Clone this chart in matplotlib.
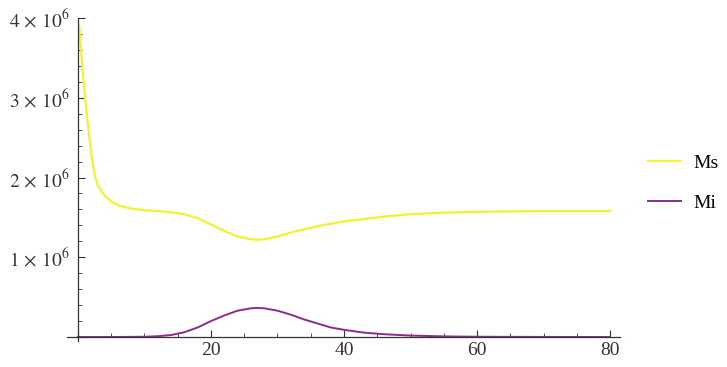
import matplotlib
matplotlib.use("Agg")
import matplotlib.pyplot as plt
from matplotlib.ticker import MultipleLocator, FuncFormatter

plt.rcParams['font.family'] = ['Liberation Serif', 'DejaVu Serif']
plt.rcParams['mathtext.fontset'] = 'stix'

# Ms curve
x_ms = [0.2, 0.5, 1, 1.5, 2, 2.5, 3, 4, 5, 6, 8, 10, 12, 14, 16, 18, 20, 22, 24,
        26, 27, 28, 30, 32, 34, 36, 38, 40, 43, 46, 50, 55, 60, 65, 70, 75, 80]
ms = [3.9, 3.55, 3.05, 2.65, 2.3, 2.03, 1.9, 1.77, 1.7, 1.65, 1.61, 1.59, 1.58, 1.565,
      1.54, 1.49, 1.41, 1.33, 1.26, 1.225, 1.22, 1.225, 1.26, 1.31, 1.35, 1.39, 1.42,
      1.45, 1.48, 1.51, 1.54, 1.56, 1.57, 1.575, 1.58, 1.58, 1.58]

# Mi curve
x_mi = [0, 5, 10, 12, 14, 16, 18, 20, 22, 24, 26, 27, 28, 30, 32, 34, 36, 38, 40,
        43, 46, 50, 55, 60, 70, 80]
mi = [0, 0, 0.003, 0.01, 0.025, 0.06, 0.12, 0.2, 0.27, 0.33, 0.36, 0.365, 0.36, 0.33,
      0.28, 0.22, 0.17, 0.12, 0.09, 0.055, 0.035, 0.018, 0.008, 0.003, 0.001, 0]

ms = [v * 1e6 for v in ms]
mi = [v * 1e6 for v in mi]

fig = plt.figure(figsize=(7.27, 3.67), dpi=100)
ax = fig.add_axes([67 / 727, 1 - 341 / 367, (620 - 67) / 727, (341 - 18) / 367])

ax.plot(x_ms, ms, color='#f2f22e', lw=1.6, label='Ms')
ax.plot(x_mi, mi, color='#8e2a8e', lw=1.4, label='Mi')

ax.set_xlim(-1.65, 81.5)
ax.set_ylim(-0.05e6, 4.0e6)

for s in ['top', 'right']:
    ax.spines[s].set_visible(False)
ax.spines['left'].set_position(('data', 0))
ax.spines['bottom'].set_position(('data', 0))
for s in ['left', 'bottom']:
    ax.spines[s].set_color('#333333')
    ax.spines[s].set_linewidth(0.9)

ax.xaxis.set_major_locator(MultipleLocator(20))
ax.xaxis.set_minor_locator(MultipleLocator(5))
ax.yaxis.set_major_locator(MultipleLocator(1e6))
ax.yaxis.set_minor_locator(MultipleLocator(0.2e6))


def ylab(v, pos):
    n = int(round(v / 1e6))
    return '' if n == 0 else r'$%d\,\times\,10^{6}$' % n


def xlab(v, pos):
    return '' if v == 0 else '%d' % v


ax.yaxis.set_major_formatter(FuncFormatter(ylab))
ax.xaxis.set_major_formatter(FuncFormatter(xlab))
ax.tick_params(which='major', direction='in', length=5, width=0.8, color='#333333',
               labelsize=14, labelcolor='#333333')
ax.tick_params(axis='y', which='major', pad=6)
ax.tick_params(which='minor', direction='in', length=3, width=0.6, color='#333333')

leg = ax.legend(loc='upper left', bbox_to_anchor=(630 / 727, 1 - 137 / 367),
                bbox_transform=fig.transFigure, frameon=False, fontsize=14,
                handlelength=1.7, labelspacing=1.15, handletextpad=0.65)

fig.savefig('out.png', dpi=100)
